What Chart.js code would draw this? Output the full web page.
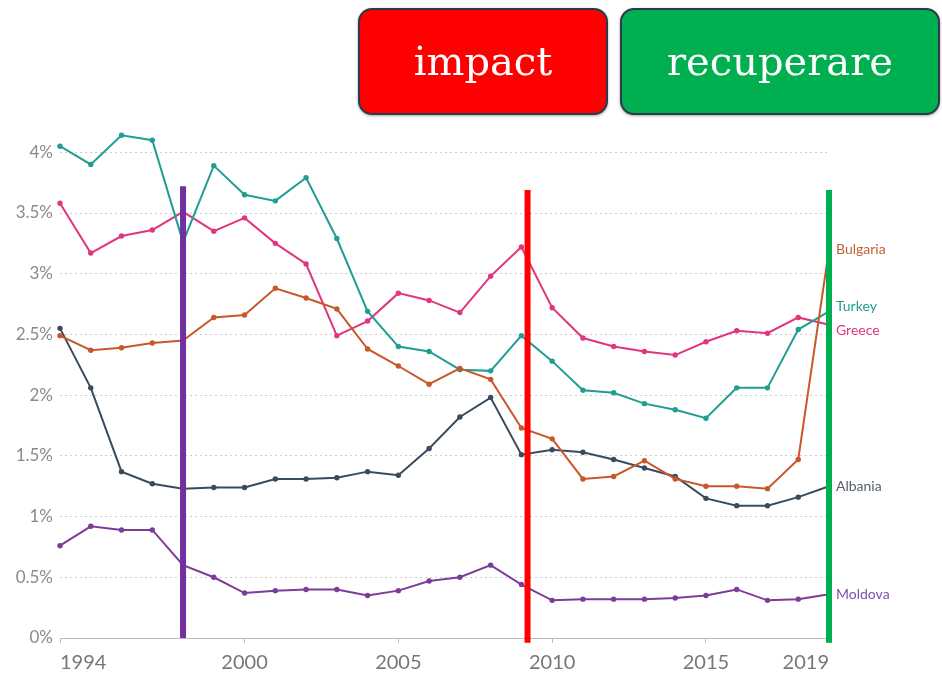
<!DOCTYPE html>
<html>
<head>
<meta charset="utf-8">
<script src="https://cdn.jsdelivr.net/npm/chart.js@4"></script>
<style>
  html, body { margin: 0; padding: 0; background: #fff; }
  #wrap { position: relative; width: 942px; height: 677px; overflow: hidden; }
  canvas { position: absolute; left: 0; top: 0; }
  .btn {
    position: absolute; top: 8px; height: 107px; box-sizing: border-box;
    border: 2px solid #2b3a4c; border-radius: 14px;
    color: #fff; font-family: "DejaVu Serif", serif; font-size: 40px;
    display: flex; align-items: center; justify-content: center;
    padding-bottom: 2px;
    box-shadow: 0 1px 3px rgba(0,0,0,0.35);
  }
  #b1 { left: 358px; width: 250px; background: #ff0000; }
  #b2 { left: 620px; width: 320px; background: #00b050; }
</style>
</head>
<body>
<div id="wrap">
  <canvas id="c" width="942" height="677"></canvas>
  <div class="btn" id="b1">impact</div>
  <div class="btn" id="b2">recuperare</div>
</div>
<script>
const years = [1994,1995,1996,1997,1998,1999,2000,2001,2002,2003,2004,2005,2006,2007,2008,2009,2010,2011,2012,2013,2014,2015,2016,2017,2018,2019];
const seriesNames = ["Bulgaria","Turkey","Greece","Albania","Moldova"];
const bulgaria = [2.49,2.37,2.39,2.43,2.45,2.64,2.66,2.88,2.80,2.71,2.38,2.24,2.09,2.22,2.13,1.73,1.64,1.31,1.33,1.46,1.31,1.25,1.25,1.23,1.47,3.20];
const turkey   = [4.05,3.90,4.14,4.10,3.26,3.89,3.65,3.60,3.79,3.29,2.69,2.40,2.36,2.21,2.20,2.49,2.28,2.04,2.02,1.93,1.88,1.81,2.06,2.06,2.54,2.69];
const greece   = [3.58,3.17,3.31,3.36,3.51,3.35,3.46,3.25,3.08,2.49,2.61,2.84,2.78,2.68,2.98,3.22,2.72,2.47,2.40,2.36,2.33,2.44,2.53,2.51,2.64,2.58];
const albania  = [2.55,2.06,1.37,1.27,1.23,1.24,1.24,1.31,1.31,1.32,1.37,1.34,1.56,1.82,1.98,1.51,1.55,1.53,1.47,1.40,1.33,1.15,1.09,1.09,1.16,1.25];
const moldova  = [0.76,0.92,0.89,0.89,0.60,0.50,0.37,0.39,0.40,0.40,0.35,0.39,0.47,0.50,0.60,0.44,0.31,0.32,0.32,0.32,0.33,0.35,0.40,0.31,0.32,0.36];
const xTicks = [1994,2000,2005,2010,2015,2019];
const xTickLabels = ["1994","2000","2005","2010","2015","2019"];
const yTicks = [0,0.5,1,1.5,2,2.5,3,3.5,4];
const yTickLabels = ["0%","0.5%","1%","1.5%","2%","2.5%","3%","3.5%","4%"];
const eventYears = [1998, 2009.2, 2019];
const eventTops = [3.72, 3.69, 3.69];
const eventBottoms = [0, -0.04, -0.04];

const seriesValues = [bulgaria, turkey, greece, albania, moldova];
const seriesColors = ["#c8572a", "#1f9e94", "#e0357f", "#3a4b5e", "#7d3c98"];
const labelColors  = ["#c0602f", "#1f9e94", "#e0357f", "#555f6a", "#8050a8"];
const eventColors  = ["#7030a0", "#ff0000", "#00b050"];

const datasets = [];
eventYears.forEach((yr, i) => {
  datasets.push({
    label: "event" + i,
    data: [{x: yr, y: eventBottoms[i]}, {x: yr, y: eventTops[i]}],
    borderColor: eventColors[i], borderWidth: 6, pointRadius: 0,
    borderCapStyle: "butt", clip: false, order: 0, isEvent: true
  });
});
seriesValues.forEach((vals, i) => {
  datasets.push({
    label: seriesNames[i],
    data: years.map((y, j) => ({x: y, y: vals[j]})),
    borderColor: seriesColors[i], backgroundColor: seriesColors[i],
    borderWidth: 2, pointRadius: 2.7, pointBorderWidth: 0,
    tension: 0, order: 1, clip: false
  });
});

const endLabels = {
  id: "endLabels",
  afterDatasetsDraw(chart) {
    const ctx = chart.ctx;
    const items = [];
    chart.data.datasets.forEach((ds, i) => {
      if (ds.isEvent) return;
      const meta = chart.getDatasetMeta(i);
      const pt = meta.data[meta.data.length - 1];
      items.push({name: ds.label, y: pt.y, color: labelColors[seriesNames.indexOf(ds.label)]});
    });
    items.sort((a, b) => a.y - b.y);
    const gap = 24;
    for (let k = 0; k < 20; k++) {
      for (let i = 1; i < items.length; i++) {
        const d = items[i].y - items[i-1].y;
        if (d < gap) {
          const m = (gap - d) / 2;
          items[i].y += m; items[i-1].y -= m;
        }
      }
    }
    ctx.save();
    ctx.font = "14px Lato";
    ctx.textBaseline = "middle";
    ctx.textAlign = "left";
    items.forEach(it => {
      ctx.fillStyle = it.color;
      ctx.fillText(it.name, chart.chartArea.right + 7, it.y);
    });
    ctx.restore();
  }
};

new Chart(document.getElementById("c"), {
  type: "line",
  data: { datasets },
  options: {
    responsive: false,
    animation: false,
    events: [],
    layout: { padding: { top: 128, left: 0, right: 113, bottom: 0 } },
    plugins: { legend: { display: false }, tooltip: { enabled: false } },
    scales: {
      x: {
        type: "linear", min: 1994, max: 2019,
        afterBuildTicks: s => { s.ticks = xTicks.map(v => ({value: v})); },
        afterFit: s => { s.height = 39; },
        ticks: {
          autoSkip: false, maxRotation: 0, align: "inner", padding: 8,
          color: "#777", font: { family: "Lato", size: 20 },
          callback: (v, i) => xTickLabels[i]
        },
        grid: { drawOnChartArea: false, drawTicks: true, tickLength: 5, tickColor: "#bbb" },
        border: { display: true, color: "#bbb", width: 1 }
      },
      y: {
        min: 0, max: 4.2,
        afterBuildTicks: s => { s.ticks = yTicks.map(v => ({value: v})); },
        afterFit: s => { s.width = 60; },
        ticks: {
          padding: 7, color: "#8a8a8a", font: { family: "Lato", size: 17 },
          callback: (v, i) => yTickLabels[i]
        },
        grid: {
          drawTicks: false, lineWidth: 1,
          color: c => (c.tick && c.tick.value === 0) ? "rgba(0,0,0,0)" : "#cccccc"
        },
        border: { display: false, dash: [2, 3] }
      }
    }
  },
  plugins: [endLabels]
});
</script>
</body>
</html>
